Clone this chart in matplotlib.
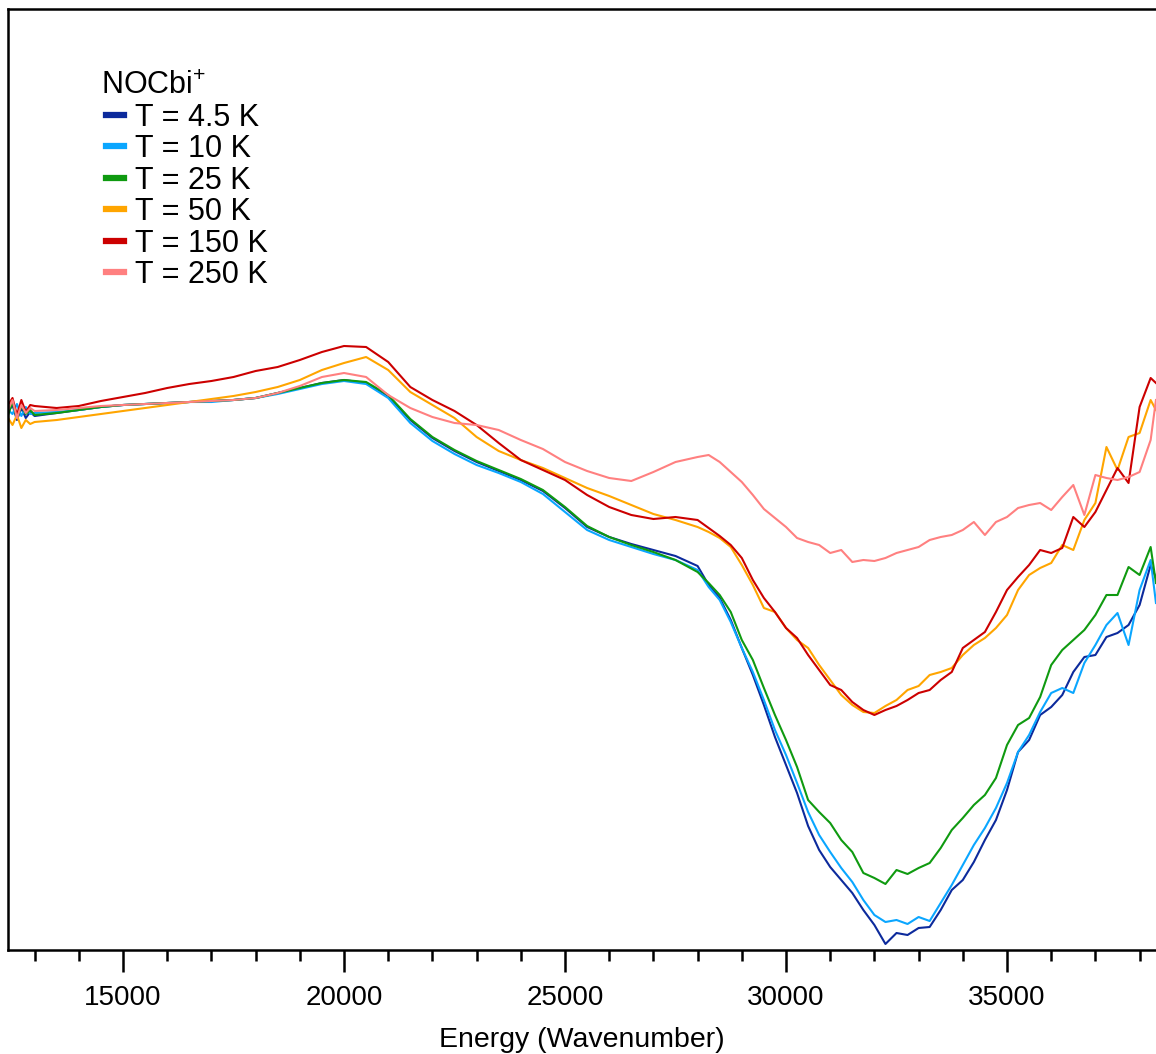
import matplotlib
matplotlib.use("Agg")
import matplotlib.pyplot as plt
from matplotlib.ticker import MultipleLocator
from matplotlib.lines import Line2D
from matplotlib.legend_handler import HandlerLine2D

plt.rcParams['font.family'] = ['Liberation Sans', 'DejaVu Sans']
plt.rcParams['mathtext.fontset'] = 'custom'
plt.rcParams['mathtext.rm'] = 'Liberation Sans'
plt.rcParams['mathtext.it'] = 'Liberation Sans:italic'

# energy axis (wavenumber, cm-1)
energy = [12400, 12500, 12600, 12700, 12800, 12900, 13000,
          13500, 14000, 14500, 15000, 15500, 16000, 16500, 17000, 17500,
          18000, 18500, 19000, 19500, 20000, 20500, 21000, 21500, 22000,
          22500, 23000, 23500, 24000, 24500, 25000, 25500, 26000, 26500,
          27000, 27500, 28000,
          28250, 28500, 28750, 29000, 29250, 29500, 29750, 30000, 30250,
          30500, 30750, 31000, 31250, 31500, 31750, 32000, 32250, 32500,
          32750, 33000, 33250, 33500, 33750, 34000, 34250, 34500, 34750,
          35000, 35250, 35500, 35750, 36000, 36250, 36500, 36750, 37000,
          37250, 37500, 37750, 38000, 38250, 38370]

# signal, arbitrary units
t_4_5 = [-2, 5, -10, 2, -8, -2, -6,
         -3, 0, 3, 5, 6, 7, 8, 9, 10, 12, 17, 22, 27, 30, 27, 14, -10, -28,
         -41, -52, -61, -70, -81, -98, -117, -127, -134, -140, -146, -156,
         -175, -188, -210, -238, -265, -295, -327, -355, -383, -416, -440,
         -457, -470, -483, -500, -515, -534, -523, -525, -518, -517, -500,
         -480, -470, -452, -430, -410, -380, -342, -330, -305, -297, -285,
         -262, -247, -245, -227, -223, -215, -195, -155, -168]
t_10 = [0, -4, 6, -6, 3, -4, -3,
        -2, 0, 3, 5, 6, 7, 8, 8, 10, 12, 16, 21, 26, 29, 26, 12, -13, -31,
        -44, -55, -63, -72, -84, -102, -120, -130, -137, -144, -150, -160,
        -177, -190, -212, -238, -262, -290, -320, -345, -373, -402, -425,
        -442, -458, -472, -490, -505, -512, -510, -514, -507, -511, -493,
        -475, -455, -435, -418, -398, -373, -342, -325, -302, -283, -278,
        -283, -253, -235, -215, -203, -235, -180, -150, -193]
t_25 = [-5, 8, -8, 4, -4, 0, -5,
        -3, 0, 3, 5, 6, 7, 8, 9, 10, 12, 17, 22, 27, 30, 28, 15, -9, -27,
        -40, -51, -60, -69, -80, -97, -116, -127, -135, -142, -150, -162,
        -173, -185, -202, -230, -250, -278, -305, -330, -357, -390, -402,
        -413, -430, -442, -463, -468, -474, -460, -464, -458, -453, -438,
        -420, -408, -395, -385, -368, -335, -315, -308, -287, -255, -240,
        -230, -220, -205, -185, -185, -157, -165, -137, -173]
t_50 = [-8, -15, -5, -18, -10, -14, -12,
        -10, -7, -4, -1, 2, 5, 8, 11, 14, 18, 23, 30, 40, 47, 53, 40, 18, 5,
        -8, -27, -41, -50, -58, -68, -78, -86, -95, -104, -110, -117,
        -122, -128, -137, -155, -175, -198, -202, -218, -230, -238, -255,
        -270, -285, -295, -302, -303, -296, -290, -280, -276, -265, -262,
        -258, -245, -235, -228, -218, -205, -180, -165, -158, -153, -135,
        -140, -110, -93, -37, -60, -27, -23, 10, 0]
t_150 = [5, 12, -5, 10, -2, 5, 4,
         2, 4, 9, 13, 17, 22, 26, 29, 33, 39, 43, 50, 58, 64, 63, 48, 23, 10,
         -1, -15, -33, -50, -60, -70, -85, -97, -105, -109, -107, -110,
         -118, -126, -135, -148, -170, -188, -202, -218, -228, -245, -260,
         -275, -280, -292, -300, -305, -300, -296, -290, -283, -280, -270,
         -262, -238, -230, -222, -202, -180, -167, -155, -140, -143, -138,
         -107, -117, -102, -80, -58, -73, 3, 32, 27]
t_250 = [0, 10, -8, 5, -3, 2, -1,
         0, 2, 4, 5, 6, 7, 8, 9, 10, 12, 17, 24, 33, 37, 33, 15, 2, -7,
         -13, -15, -20, -30, -39, -52, -61, -68, -71, -62, -52, -47,
         -45, -52, -62, -72, -85, -99, -108, -117, -128, -132, -135,
         -143, -140, -152, -150, -151, -148, -143, -140, -137, -130, -127,
         -125, -120, -112, -125, -112, -107, -98, -95, -93, -100, -87,
         -75, -105, -65, -68, -70, -67, -62, -30, 10]

labels = ['T = 4.5 K', 'T = 10 K', 'T = 25 K', 'T = 50 K', 'T = 150 K', 'T = 250 K']
colors = ['#0c2a9c', '#0aa6ff', '#0f9a10', '#ffa500', '#cc0000', '#ff8080']
series = [t_4_5, t_10, t_25, t_50, t_150, t_250]

fig = plt.figure(figsize=(11.56, 10.54), dpi=100)
ax = fig.add_axes([8 / 1156, 104 / 1054, 1 - 8 / 1156, 941 / 1054])

for s, c, lab in zip(series, colors, labels):
    ax.plot(energy, s, color=c, lw=1.5, label=lab)

ax.set_xlim(12398, 38371)
ax.set_ylim(-540, 401)

ax.spines['right'].set_visible(False)
for sp in ['left', 'top', 'bottom']:
    ax.spines[sp].set_linewidth(1.8)

ax.set_yticks([])
ax.xaxis.set_major_locator(MultipleLocator(5000))
ax.xaxis.set_minor_locator(MultipleLocator(1000))
ax.tick_params(axis='x', which='major', direction='out', length=15.5, width=1.8,
               labelsize=20, pad=10)
ax.tick_params(axis='x', which='minor', direction='out', length=8, width=1.8)
ax.set_xlabel('Energy (Wavenumber)', fontsize=20.5, labelpad=11)

leg = ax.legend(title='NOCbi$^{+}$', loc='upper left', frameon=False,
                fontsize=22, title_fontsize=22, alignment='left',
                handlelength=0.75, handletextpad=0.36, labelspacing=0.05,
                borderpad=0, borderaxespad=0,
                handler_map={Line2D: HandlerLine2D(xpad=0.16)},
                bbox_to_anchor=(101 / 1156, 1 - 71 / 1054),
                bbox_transform=fig.transFigure)
for line in leg.get_lines():
    line.set_linewidth(4.5)

fig.savefig('out.png', dpi=100)
